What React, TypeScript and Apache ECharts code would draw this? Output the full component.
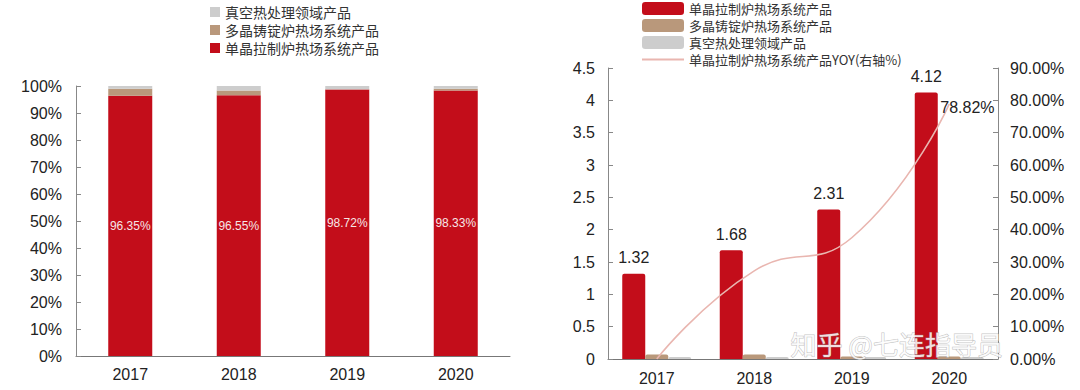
import React, { useEffect, useRef } from 'react';
import * as echarts from 'echarts';

const years = ['2017', '2018', '2019', '2020'];

const N_MONO = '单晶拉制炉热场系统产品';
const N_MULTI = '多晶铸锭炉热场系统产品';
const N_VAC = '真空热处理领域产品';
const N_YOY = '单晶拉制炉热场系统产品YOY(右轴%)';

// left chart: revenue share (%)
const shareMono = [96.35, 96.55, 98.72, 98.33];
const shareMulti = [2.65, 1.75, 0.1, 0.67];
const shareVacuum = [1.0, 1.7, 1.18, 1.0];

// right chart: revenue (亿元) and YOY (%)
const revMono = [1.32, 1.68, 2.31, 4.12];
const revMulti = [0.07, 0.07, 0.04, 0.04];
const revVacuum = [0.03, 0.03, 0.03, 0.03];
const yoyMono = [0, 27.27, 37.5, 78.82];

const RED = '#C30D1A';
const TAN = '#B9987B';
const GRAY = '#CDCDCD';
const PINK = '#E9B6B0';

const NUM_FONT = 'Arial, "Liberation Sans", sans-serif';
const CJK_FONT = '"Noto Sans CJK SC", sans-serif';

export default function App() {
  const ref = useRef<HTMLDivElement>(null);
  useEffect(() => {
    if (!ref.current) return;
    const chart = echarts.init(ref.current, null, { renderer: 'svg' });
    const axisLabel = { fontSize: 16, color: '#222', fontFamily: NUM_FONT };
    const lastIdx = yoyMono.length - 1;
    chart.setOption({
      animation: false,
      backgroundColor: '#fff',
      grid: [
        { left: 76, top: 86, width: 434, height: 270 },
        { left: 608, top: 68, width: 390, height: 291 },
      ],
      legend: [
        {
          orient: 'vertical',
          left: 205,
          top: 0,
          icon: 'rect',
          itemWidth: 10,
          itemHeight: 10,
          itemGap: 4,
          textStyle: { fontSize: 14, lineHeight: 14, color: '#333', fontFamily: CJK_FONT },
          data: [N_VAC, N_MULTI, N_MONO],
        },
        {
          orient: 'vertical',
          left: 636,
          top: -3,
          itemWidth: 42,
          itemHeight: 13,
          itemGap: 4,
          textStyle: { fontSize: 13, lineHeight: 13, color: '#333', fontFamily: CJK_FONT },
          data: [
            { name: N_MONO, icon: 'roundRect' },
            { name: N_MULTI, icon: 'roundRect' },
            { name: N_VAC, icon: 'roundRect' },
            { name: N_YOY, itemStyle: { opacity: 0 } },
          ],
        },
      ],
      xAxis: [
        {
          type: 'category',
          gridIndex: 0,
          data: years,
          axisLine: { lineStyle: { color: '#777' } },
          axisTick: { inside: true, length: 5, lineStyle: { color: '#777' } },
          axisLabel: { ...axisLabel, margin: 10 },
        },
        {
          type: 'category',
          gridIndex: 1,
          data: years,
          axisLine: { lineStyle: { color: '#777' } },
          axisTick: { inside: true, length: 5, lineStyle: { color: '#777' } },
          axisLabel: { ...axisLabel, margin: 11 },
        },
      ],
      yAxis: [
        {
          type: 'value',
          gridIndex: 0,
          min: 0,
          max: 100,
          interval: 10,
          splitLine: { show: false },
          axisLine: { show: true, lineStyle: { color: '#888' } },
          axisTick: { show: true, inside: true, length: 5, lineStyle: { color: '#888' } },
          axisLabel: { ...axisLabel, margin: 14, formatter: (v: number) => `${v}%` },
        },
        {
          type: 'value',
          gridIndex: 1,
          min: 0,
          max: 4.5,
          interval: 0.5,
          splitLine: { show: false },
          axisLine: { show: true, lineStyle: { color: '#888' } },
          axisTick: { show: true, inside: true, length: 5, lineStyle: { color: '#888' } },
          axisLabel: { ...axisLabel, margin: 13 },
        },
        {
          type: 'value',
          gridIndex: 1,
          position: 'right',
          min: 0,
          max: 90,
          interval: 10,
          splitLine: { show: false },
          axisLine: { show: true, lineStyle: { color: '#888' } },
          axisTick: { show: true, inside: true, length: 5, lineStyle: { color: '#888' } },
          axisLabel: { ...axisLabel, margin: 12, formatter: (v: number) => `${v.toFixed(2)}%` },
        },
      ],
      series: [
        {
          name: N_MONO,
          type: 'bar',
          xAxisIndex: 0,
          yAxisIndex: 0,
          stack: 'share',
          barWidth: 44,
          data: shareMono,
          itemStyle: { color: RED },
          label: {
            show: true,
            position: 'inside',
            color: '#F6E6E6',
            fontSize: 12,
            fontFamily: NUM_FONT,
            formatter: (p: any) => `${Number(p.value).toFixed(2)}%`,
          },
        },
        {
          name: N_MULTI,
          type: 'bar',
          xAxisIndex: 0,
          yAxisIndex: 0,
          stack: 'share',
          barWidth: 44,
          data: shareMulti,
          itemStyle: { color: TAN },
        },
        {
          name: N_VAC,
          type: 'bar',
          xAxisIndex: 0,
          yAxisIndex: 0,
          stack: 'share',
          barWidth: 44,
          data: shareVacuum,
          itemStyle: { color: GRAY },
        },
        {
          name: N_MONO,
          type: 'bar',
          xAxisIndex: 1,
          yAxisIndex: 1,
          barWidth: 23,
          barGap: '0%',
          data: revMono,
          itemStyle: { color: RED, borderRadius: [2, 2, 0, 0] },
          label: {
            show: true,
            position: 'top',
            distance: 8,
            color: '#222',
            fontSize: 16,
            fontFamily: NUM_FONT,
            formatter: (p: any) => Number(p.value).toFixed(2),
          },
        },
        {
          name: N_MULTI,
          type: 'bar',
          xAxisIndex: 1,
          yAxisIndex: 1,
          barWidth: 23,
          barGap: '0%',
          data: revMulti,
          itemStyle: { color: TAN, borderRadius: [2, 2, 0, 0] },
        },
        {
          name: N_VAC,
          type: 'bar',
          xAxisIndex: 1,
          yAxisIndex: 1,
          barWidth: 23,
          barGap: '0%',
          data: revVacuum,
          itemStyle: { color: GRAY, borderRadius: [2, 2, 0, 0] },
        },
        {
          name: N_YOY,
          type: 'line',
          xAxisIndex: 1,
          yAxisIndex: 2,
          smooth: 0.5,
          symbol: 'circle',
          symbolSize: 0.1,
          showSymbol: true,
          showAllSymbol: true,
          z: 5,
          lineStyle: { color: PINK, width: 1.6 },
          itemStyle: { color: PINK },
          label: {
            show: true,
            position: 'right',
            offset: [-14, 3],
            color: '#222',
            fontSize: 16,
            fontFamily: NUM_FONT,
            formatter: (p: any) => (p.dataIndex === lastIdx ? `${Number(p.value).toFixed(2)}%` : ''),
          },
          data: yoyMono,
        },
      ],
      graphic: [
        {
          type: 'text',
          left: 790,
          top: 330,
          z: 100,
          style: {
            text: '知乎 @七连指导员',
            fontSize: 26,
            fontFamily: CJK_FONT,
            fill: 'rgba(255,255,255,0.85)',
            stroke: 'rgba(150,150,150,0.6)',
            lineWidth: 1,
          },
        },
      ],
    });
    return () => chart.dispose();
  }, []);
  return (
    <div
      ref={ref}
      style={{ position: 'absolute', left: 0, top: 0, width: 1080, height: 390, background: '#fff' }}
    />
  );
}
